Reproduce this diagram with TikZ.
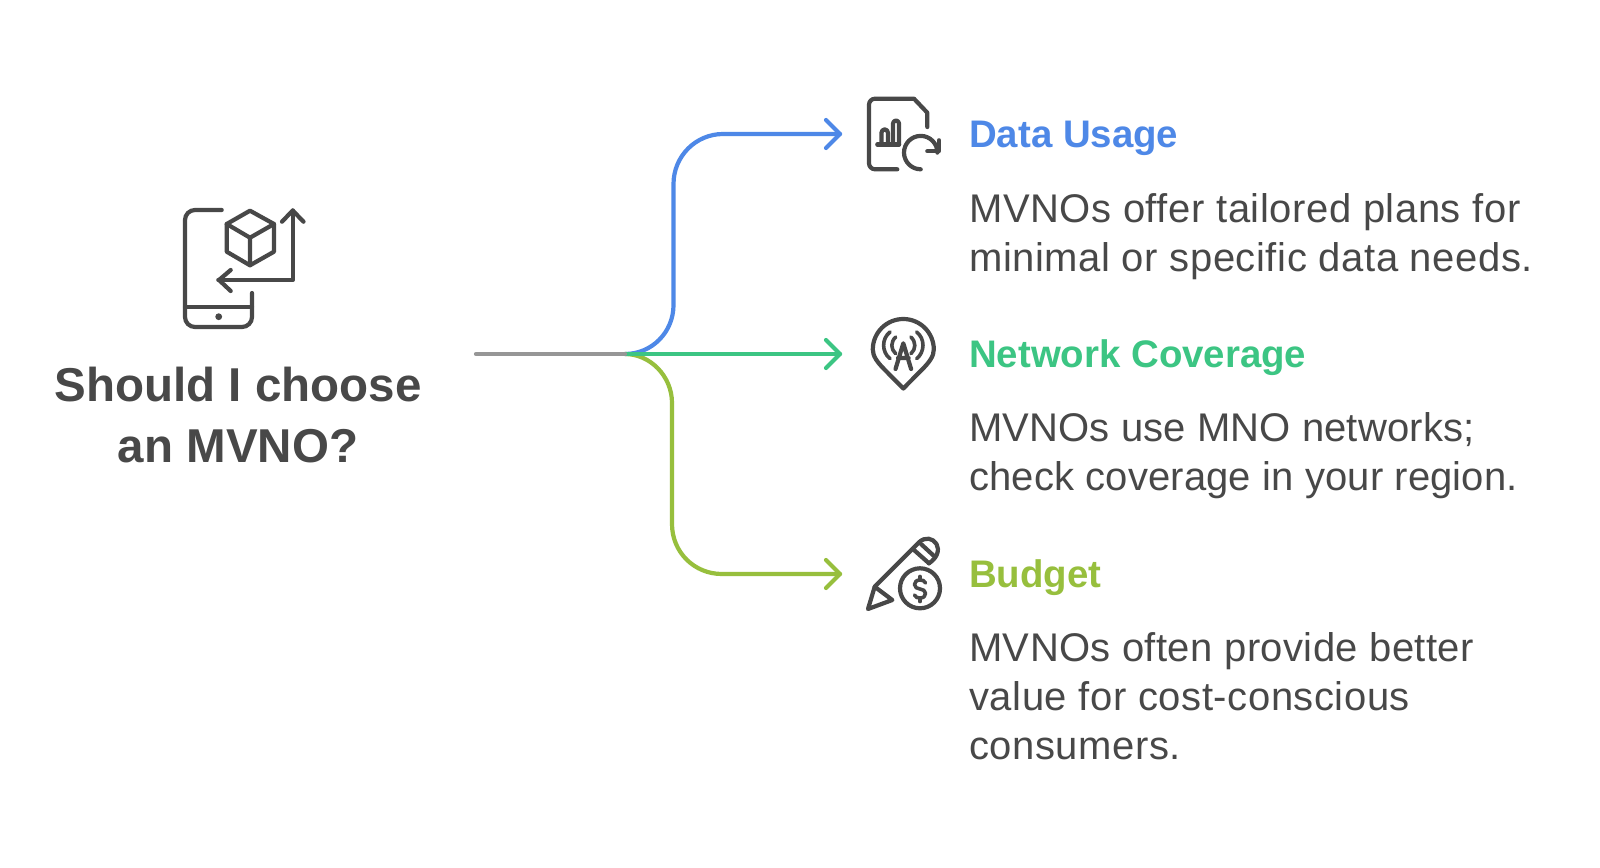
\documentclass[tikz,border=0pt]{standalone}
\usepackage{fontspec}
\setmainfont{Liberation Sans}
\newfontfamily\bodyf[LetterSpace=1.4]{Liberation Sans}
\newfontfamily\bodym[LetterSpace=1.0]{Liberation Sans}
\newfontfamily\bodyn[LetterSpace=0.4]{Liberation Sans}
\definecolor{ink}{HTML}{484848}
\definecolor{cblue}{HTML}{4E88E7}
\definecolor{cgreen}{HTML}{3CC583}
\definecolor{clime}{HTML}{97BF3D}
\definecolor{cgray}{HTML}{969696}
\tikzset{
  icon/.style={draw=ink,line width=4.2pt,line cap=round,line join=round},
  conn/.style={line width=4.2pt,line cap=round,line join=round},
  head/.style={conn},
  hd/.style={font=\bfseries\fontsize{38.4}{46}\selectfont,anchor=base west,inner sep=0pt},
  bd/.style={font=\bodyf\fontsize{40}{49}\selectfont,anchor=base west,inner sep=0pt,text=ink},
  bdm/.style={bd,font=\bodym\fontsize{40}{49}\selectfont},
  bdn/.style={bd,font=\bodyn\fontsize{40}{49}\selectfont},
  ttl/.style={font=\bfseries\fontsize{47.5}{61}\selectfont,text=ink,inner sep=0pt,align=center},
}
\begin{document}
\begin{tikzpicture}[x=1pt,y=-1pt]
\useasboundingbox (0,0) rectangle (1600,867);
\fill[white] (0,0) rectangle (1600,867);
% connectors
\coordinate (src) at (476,354);
\coordinate (hub) at (625,354);
\coordinate (ta) at (840,134);
\coordinate (tb) at (840,354);
\coordinate (tc) at (840,574);
\draw[conn,cblue] (hub) .. controls (652,354) and (673.5,332) .. (673.5,305) -- (673.5,184) .. controls (673.5,156) and (696,134) .. (723,134) -- (ta);
\draw[conn,clime] (hub) .. controls (650,354) and (672,376) .. (672,403) -- (672,524) .. controls (672,552) and (694,574) .. (722,574) -- (tc);
\draw[conn,cgreen] (hub) -- (tb);
\draw[conn,cgray] (src) -- (hub);
\draw[head,cblue] (826,120) -- (ta) -- (826,148);
\draw[head,cgreen] (826,340) -- (tb) -- (826,368);
\draw[head,clime] (826,560) -- (tc) -- (826,588);
% main icon
\draw[icon] (221.7,210) -- (195,210) arc[start angle=90,end angle=180,radius=10pt] -- (185,317) arc[start angle=180,end angle=270,radius=10pt] -- (242,327) arc[start angle=270,end angle=360,radius=10pt] -- (252,293);
\draw[icon] (185,306.7) -- (252,306.7);
\fill[ink] (218.7,316.7) circle[radius=3.4pt];
\draw[icon] (250,210.7) -- (274,224) -- (274,251.7) -- (250,265.3) -- (226.7,251.7) -- (226.7,224) -- cycle;
\draw[icon] (226.7,224) -- (250,237.7) -- (274,224) (250,237.7) -- (250,265.3);
\draw[icon] (218.3,280) -- (292.7,280) -- (292.7,210.5);
\draw[icon] (282,221.7) -- (292.7,210.5) -- (303.5,221.7);
\draw[icon] (230.7,270) -- (219,280) -- (230.7,291);
% data usage icon
\draw[icon] (897.3,169.3) -- (875,169.3) arc[start angle=270,end angle=180,radius=6pt] -- (869,104.7) arc[start angle=180,end angle=90,radius=6pt] -- (914,98.7) -- (927.3,112.7) -- (927.3,127);
\draw[icon] (877.3,144.5) -- (899,144.5);
\draw[icon] (881.5,144.5) -- (881.5,132.6) arc[start angle=180,end angle=0,radius=3.2pt] -- (887.9,144.5);
\draw[icon] (893,144.5) -- (893,123.5) arc[start angle=180,end angle=0,radius=3pt] -- (899,144.5);
\draw[icon] (920.7,169.3) arc[start angle=270,end angle=0,radius=16.7pt];
\draw[icon] (939,140.3) -- (939,151.3) -- (927.3,151.3);
% coverage icon
\draw[icon] (903.3,388.5) -- (884.5,369.5) .. controls (877,362) and (872.8,356) .. (872.8,349.5) arc[start angle=180,end angle=0,radius=30.5pt] .. controls (933.8,356) and (929.6,362) .. (922.1,369.5) -- cycle;
\draw[icon] (895.5,369) -- (903.3,343.3) -- (911.1,369) (898,358) -- (908.6,358);
\draw[icon,line width=3.6pt] (895.7,337) .. controls (890.5,342) and (890.5,349) .. (895.7,353.7);
\draw[icon,line width=3.6pt] (910.9,337) .. controls (916.1,342) and (916.1,349) .. (910.9,353.7);
\draw[icon,line width=3.6pt] (890,332) .. controls (881.5,338.5) and (881.5,352) .. (890,358.7);
\draw[icon,line width=3.6pt] (916.6,332) .. controls (925.1,338.5) and (925.1,352) .. (916.6,358.7);
% budget icon
\draw[icon] (874.7,586.7) -- (919,542.3) .. controls (925,536.5) and (933,538) .. (936.5,544) .. controls (940,550) and (937,558) .. (929,563.3);
\draw[icon] (874.7,586.7) -- (868,609) -- (892.3,600) -- cycle;
\draw[icon] (914,550) -- (929,563.3) (921,544) -- (934,556);
\draw[icon] (920,588.3) circle[radius=20pt];
\draw[icon,line width=3.6pt] (925.5,583) .. controls (924.5,580.5) and (922.5,580) .. (920,580) .. controls (916.5,580) and (914.5,582) .. (914.5,584.5) .. controls (914.5,587.5) and (917,588.5) .. (920,589) .. controls (923,589.5) and (925.5,590.5) .. (925.5,593.5) .. controls (925.5,596) and (923.5,598) .. (920,598) .. controls (917.5,598) and (915.5,597.5) .. (914.5,595);
\draw[icon,line width=3.6pt] (920,576.5) -- (920,580) (920,598) -- (920,601.5);
% text
\node[ttl] (title) at (238,415) {Should I choose\\an MVNO?};
\node[hd,text=cblue] (h1) at (969,147) {Data Usage};
\node[bd] (b1a) at (969,222) {MVNOs offer tailored plans for};
\node[bd] (b1b) at (969,271) {minimal or specific data needs.};
\node[hd,text=cgreen] (h2) at (969,367) {Network Coverage};
\node[bdn] (b2a) at (969,441) {MVNOs use MNO networks;};
\node[bdn] (b2b) at (969,490) {check coverage in your region.};
\node[hd,text=clime] (h3) at (969,587) {Budget};
\node[bdm] (b3a) at (969,661) {MVNOs often provide better};
\node[bd] (b3b) at (969,710) {value for cost-conscious};
\node[bd] (b3c) at (969,759) {consumers.};
\end{tikzpicture}
\end{document}
